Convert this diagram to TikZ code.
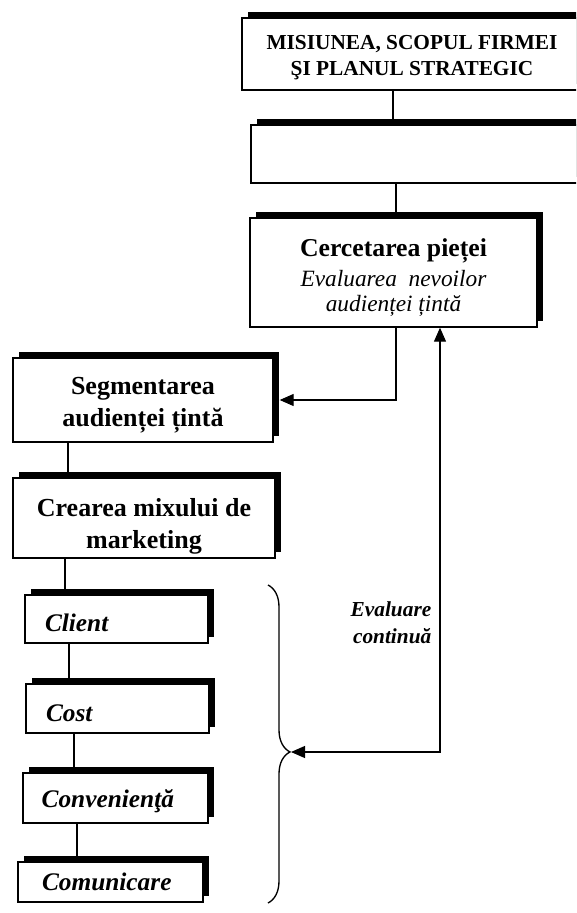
\documentclass[tikz,border=0pt]{standalone}
\usepackage{fontspec}
\setmainfont{Liberation Serif}
\usetikzlibrary{arrows.meta,shadows,decorations.pathreplacing}
\begin{document}
\begin{tikzpicture}[x=0.75pt,y=-0.75pt,
  box/.style={draw, line width=1pt, fill=white, inner sep=0pt, align=center,
    drop shadow={shadow xshift=4.2pt, shadow yshift=4.2pt, fill=black, opacity=1}},
  smallbox/.style={box, align=left, inner xsep=15pt,
    font=\fontsize{19}{23}\selectfont\bfseries\itshape},
  conn/.style={line width=0.8pt},
  arr/.style={line width=0.8pt, -{Triangle[length=10.5pt,width=9pt]}},
  darr/.style={line width=0.8pt, {Triangle[length=10.5pt,width=9pt]}-{Triangle[length=10.5pt,width=9pt]}}
]
\clip (0,0) rectangle (576,913);
% boxes
\node[box, minimum width=255pt, minimum height=54pt,
  font=\fontsize{16}{19}\selectfont\bfseries] (b1) at (412,54)
  {\rule{0pt}{16pt}MISIUNEA, SCOPUL FIRMEI\\ŞI PLANUL STRATEGIC};
\node[box, minimum width=248.25pt, minimum height=43.5pt] (b2) at (416.5,154) {};
\node[box, minimum width=215.25pt, minimum height=81.75pt,
  font=\fontsize{17.5}{19}\selectfont] (b3) at (393.5,272.5)
  {{\fontsize{19.3}{20}\selectfont\bfseries\rule{0pt}{21pt}Cercetarea pieței}\\[3pt]
   {\itshape Evaluarea~ nevoilor}\\
   {\itshape audienței țintă}};
\node[box, minimum width=195pt, minimum height=63pt,
  font=\fontsize{19.5}{24}\selectfont\bfseries] (seg) at (143,400)
  {\rule{0pt}{21pt}Segmentarea\\audienței țintă};
\node[box, minimum width=196.5pt, minimum height=60pt,
  font=\fontsize{19.5}{24}\selectfont\bfseries] (cre) at (144,518)
  {\rule{0pt}{26pt}Crearea mixului de\\marketing};
\node[smallbox, text width=107.25pt, minimum height=36pt] (cli) at (116.5,619) {\rule{0pt}{19pt}Client};
\node[smallbox, text width=107.25pt, minimum height=36.75pt] (cost) at (117.5,708.5) {\rule{0pt}{19pt}Cost};
\node[smallbox, minimum height=37.5pt, inner xsep=14pt, text width=110.75pt] (conv) at (115.5,798) {\rule{0pt}{18pt}Convenienţă};
\node[smallbox, minimum height=30pt, inner xsep=18pt, text width=102.75pt] (com) at (110.5,882) {Comunicare};
% vertical connectors
\draw[conn] (b1.south -| 393,0) -- (b2.north -| 393,0);
\draw[conn] (b2.south -| 396,0) -- (b3.north -| 396,0);
\draw[conn] (seg.south -| 68,0) -- (cre.north -| 68,0);
\draw[conn] (cre.south -| 65,0) -- (cli.north -| 65,0);
\draw[conn] (cli.south -| 69,0) -- (cost.north -| 69,0);
\draw[conn] (cost.south -| 74,0) -- (conv.north -| 74,0);
\draw[conn] (conv.south -| 77,0) -- (com.north -| 77,0);
% b3 to segmentarea
\draw[arr, shorten >=4.5pt] (b3.south -| 396,0) |- (seg.east);
% brace
\draw[line width=1pt, decorate, decoration={brace, amplitude=16.5pt, aspect=0.525}]
  (268,585) coordinate (brtop) -- (268,903) coordinate (brbot);
\coordinate (bt) at (291,752);
\coordinate (ev) at (440,752);
\draw[darr] (bt) -- (ev) -- (b3.south -| ev);
\node[anchor=east, align=right, font=\fontsize{16}{20}\selectfont\bfseries\itshape] (evl) at (436,623)
  {Evaluare\\continuă};
\end{tikzpicture}
\end{document}
